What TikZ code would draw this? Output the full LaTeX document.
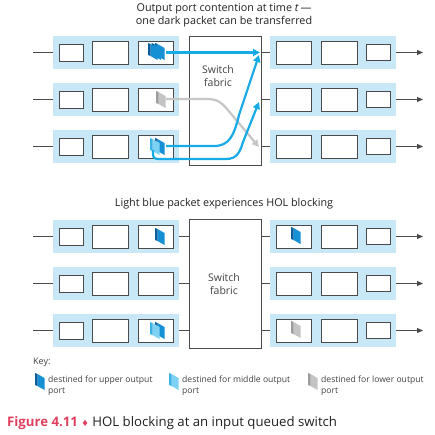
\documentclass[tikz,border=0pt]{standalone}
\usepackage{fontspec}
\setmainfont{Open Sans}
\newfontfamily\symfont{DejaVu Sans}
\usetikzlibrary{arrows.meta}
\definecolor{bandc}{HTML}{C8E8F7}
\definecolor{boxline}{HTML}{4A4A4A}
\definecolor{txtc}{HTML}{231F20}
\definecolor{dkblue}{HTML}{1590D4}
\definecolor{dkblueside}{HTML}{0A5E9E}
\definecolor{ltblue}{HTML}{7DD2F3}
\definecolor{ltblueside}{HTML}{3CB2E4}
\definecolor{gryc}{HTML}{C4C4C4}
\definecolor{gryside}{HTML}{9C9C9C}
\definecolor{arrblue}{HTML}{16AAE6}
\definecolor{arrgray}{HTML}{C6C6C6}
\definecolor{figred}{HTML}{E0405E}
\tikzset{
  band/.style={fill=bandc, draw=none, minimum width=126pt, minimum height=33pt, inner sep=0pt},
  qbox/.style={draw=boxline, fill=white, line width=0.9pt, inner sep=0pt, minimum width=35pt, minimum height=23pt},
  sbox/.style={qbox, minimum width=24pt, minimum height=17pt},
  fabric/.style={draw=boxline, line width=0.9pt, fill=white, minimum width=72pt, minimum height=129pt, inner sep=0pt},
  wire/.style={draw=boxline, line width=0.9pt},
  outarrow/.style={wire, -{Triangle[length=6pt,width=5pt]}},
  bluearr/.style={draw=arrblue, line width=2.2pt, -{Triangle[length=7pt,width=7pt]}},
  grayarr/.style={draw=arrgray, line width=2.2pt, -{Triangle[length=7pt,width=7pt]}},
  lbl/.style={font=\fontsize{10.8}{13}\selectfont, align=center, inner sep=0pt, text=txtc},
  keytxt/.style={font=\fontsize{8.6}{10.5}\selectfont, align=left, anchor=north west, inner sep=0pt, text=txtc!85},
  fabtxt/.style={font=\fontsize{10.5}{12.5}\selectfont, align=center, inner sep=0pt, text=txtc!85},
  pics/pkt/.style 2 args={code={
    \fill[#1] (2.5,1) -- (9.5,5) -- (9.5,17) -- (2.5,13) -- cycle;
    \fill[#2] (0,0) -- (2.5,1) -- (2.5,13) -- (0,12) -- cycle;
  }}
}
\begin{document}
\begin{tikzpicture}[x=1pt,y=-1pt]
\useasboundingbox (0,0) rectangle (434,435);
% ---------- titles ----------
\node[lbl] (t1) at (224,15) {Output port contention at time \textit{t}\,—\\one dark packet can be transferred};
\node[lbl] (t2) at (224,204) {Light blue packet experiences HOL blocking};
% ---------- switch fabrics ----------
\node[fabric] (fabA) at (225,100.5) {};
\node[fabtxt] (fabAt) at (218,76) {Switch\\fabric};
\node[fabric] (fabB) at (225,284) {};
\node[fabtxt] (fabBt) at (224,284) {Switch\\fabric};
% ---------- rows ----------
\foreach \p/\f/\ya/\yb/\yc in {a/fabA/52.5/99.5/146.5, b/fabB/236.5/283.5/330.5}{
  \foreach \r/\y in {1/\ya,2/\yb,3/\yc}{
    \node[band] (\p ib\r) at (116,\y) {};
    \node[sbox] (\p is\r) at (71,\y) {};
    \node[qbox, minimum width=36pt] (\p iq\r) at (110,\y) {};
    \node[qbox] (\p ih\r) at (155.5,\y) {};
    \coordinate (\p in\r) at (33,\y);
    \draw[wire] (\p in\r) -- (\p ib\r.west);
    \draw[wire] (\p ib\r.east) -- (\f.west |- \p ib\r.east);
    \node[band] (\p ob\r) at (333,\y) {};
    \node[qbox] (\p oh\r) at (293.5,\y) {};
    \node[qbox, minimum width=36pt] (\p oq\r) at (339,\y) {};
    \node[sbox, minimum height=16pt] (\p os\r) at (378,\y) {};
    \coordinate (\p out\r) at (423,\y);
    \draw[wire] (\f.east |- \p ob\r.west) -- (\p ob\r.west);
    \draw[outarrow] (\p ob\r.east) -- (\p out\r);
  }
}
% ---------- packets (top) ----------
\pic at (155,43) {pkt={dkblue}{dkblueside}};
\pic at (151.5,43) {pkt={dkblue}{dkblueside}};
\pic at (148,43) {pkt={dkblue}{dkblueside}};
\pic at (156,91) {pkt={gryc}{gryside}};
\pic at (155,138) {pkt={dkblue}{dkblueside}};
\pic at (150,138) {pkt={ltblue}{ltblueside}};
% ---------- packets (bottom) ----------
\pic at (155,228) {pkt={dkblue}{dkblueside}};
\pic at (155,322) {pkt={dkblue}{dkblueside}};
\pic at (150,322) {pkt={ltblue}{ltblueside}};
\pic at (291,227) {pkt={dkblue}{dkblueside}};
\pic at (291,321) {pkt={gryc}{gryside}};
% ---------- transfer arrows ----------
\coordinate (s1) at (166,52.5);
\coordinate (e1) at (260,52.5);
\coordinate (s2) at (166,99);
\coordinate (e2) at (259,147);
\coordinate (s3) at (166,146);
\coordinate (e3) at (259,55);
\coordinate (s4) at (153,150);
\coordinate (e4) at (259,102);
\draw[grayarr] (s2) -- (207,99) .. controls (217,99) and (221,102) .. (227,109) -- (e2);
\draw[bluearr] (s1) -- (e1);
\draw[bluearr] (s3) -- (214,146) .. controls (229,146) and (234,136) .. (239,115) -- (e3);
\draw[bluearr] (s4) -- (153,154) .. controls (153,158) and (155,159) .. (159,159) -- (226,159) .. controls (237,159) and (240,152) .. (243,142) -- (e4);
% ---------- key ----------
\node[keytxt, font=\fontsize{9}{11}\selectfont] (key) at (33,358) {Key:};
\pic at (35,373) {pkt={dkblue}{dkblueside}};
\node[keytxt] (k1) at (48,376) {destined for upper output\\port};
\pic at (169,373) {pkt={ltblue}{ltblueside}};
\node[keytxt] (k2) at (182,376) {destined for middle output\\port};
\pic at (308,373) {pkt={gryc}{gryside}};
\node[keytxt] (k3) at (321,376) {destined for lower output\\port};
% ---------- caption ----------
\node[anchor=west, inner sep=0pt, font=\fontsize{13.2}{15}\selectfont, text=txtc] (cap) at (7,423)
  {\textcolor{figred}{\textbf{Figure 4.11}} \textcolor{figred}{\symfont\fontsize{8.5}{10}\selectfont ♦} HOL blocking at an input queued switch};
\end{tikzpicture}
\end{document}
